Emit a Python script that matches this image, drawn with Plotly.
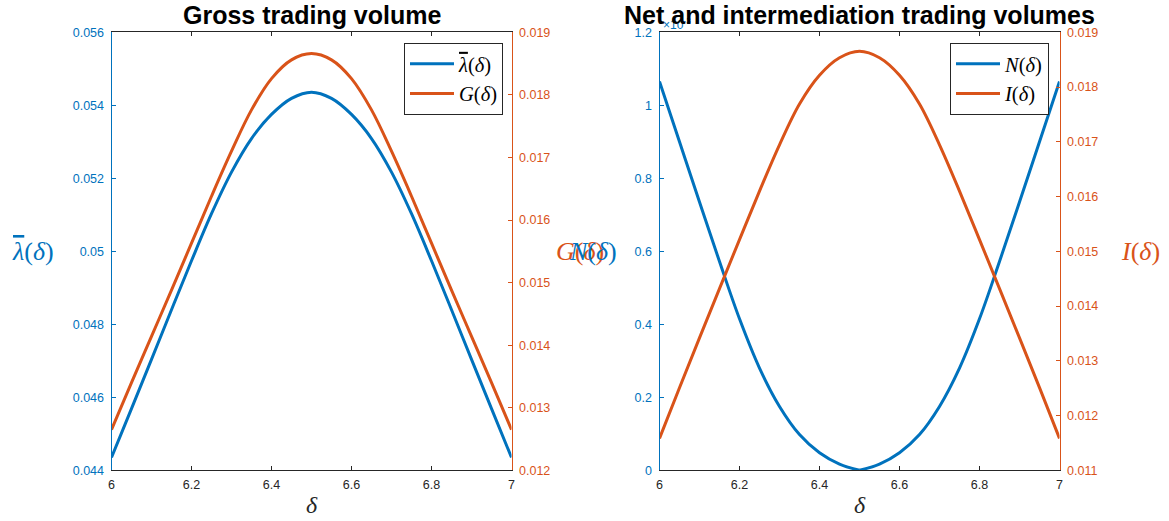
import plotly.graph_objects as go

# Bank parameter delta on the horizontal axis
delta = [6.00, 6.05, 6.10, 6.15, 6.20, 6.25, 6.30, 6.35, 6.40, 6.45, 6.50,
         6.55, 6.60, 6.65, 6.70, 6.75, 6.80, 6.85, 6.90, 6.95, 7.00]

# Gross trading volume panel
lambda_bar = [0.04435, 0.04569, 0.04704, 0.04840, 0.04974, 0.05103, 0.05217,
              0.05309, 0.05375, 0.05419, 0.05436, 0.05419, 0.05375, 0.05309,
              0.05217, 0.05103, 0.04974, 0.04840, 0.04704, 0.04569, 0.04435]
gross = [0.01265, 0.01340, 0.01414, 0.01488, 0.01563, 0.01638, 0.01710,
         0.01776, 0.01826, 0.01856, 0.01866, 0.01856, 0.01826, 0.01776,
         0.01710, 0.01638, 0.01563, 0.01488, 0.01414, 0.01340, 0.01265]

# Net and intermediation panel
net = [0.001065, 0.000900, 0.000735, 0.000572, 0.000415, 0.000280, 0.000175,
       0.000098, 0.000048, 0.000017, 0.000000, 0.000017, 0.000048, 0.000098,
       0.000175, 0.000280, 0.000415, 0.000572, 0.000735, 0.000900, 0.001065]
inter = [0.011584, 0.012509, 0.013419, 0.014319, 0.015214, 0.016099, 0.016944,
         0.017689, 0.018214, 0.018534, 0.018652, 0.018534, 0.018214, 0.017689,
         0.016944, 0.016099, 0.015214, 0.014319, 0.013419, 0.012509, 0.011584]

# Tick positions and labels
x_ticks = [6.0, 6.2, 6.4, 6.6, 6.8, 7.0]
x_ticktext = ["6", "6.2", "6.4", "6.6", "6.8", "7"]
lam_ticks = [0.044, 0.046, 0.048, 0.050, 0.052, 0.054, 0.056]
lam_ticktext = ["0.044", "0.046", "0.048", "0.05", "0.052", "0.054", "0.056"]
g_ticks = [0.012, 0.013, 0.014, 0.015, 0.016, 0.017, 0.018, 0.019]
g_ticktext = ["0.012", "0.013", "0.014", "0.015", "0.016", "0.017", "0.018", "0.019"]
n_ticks = [0.0, 0.0002, 0.0004, 0.0006, 0.0008, 0.0010, 0.0012]
n_ticktext = ["0", "0.2", "0.4", "0.6", "0.8", "1", "1.2"]
i_ticks = [0.011, 0.012, 0.013, 0.014, 0.015, 0.016, 0.017, 0.018, 0.019]
i_ticktext = ["0.011", "0.012", "0.013", "0.014", "0.015", "0.016", "0.017", "0.018", "0.019"]

BLUE = "#0072BD"
ORANGE = "#D95319"
DARK = "#262626"
W, H = 1169, 521
SANS = "Liberation Sans, Arial, sans-serif"
SERIF = "Liberation Serif, Times New Roman, serif"
LAMBDA_BAR = '<i><span style="text-decoration:overline">λ</span></i>(<i>δ</i>)'


def px(x):
    return x / W


def py(y):
    return 1 - y / H


fig = go.Figure()

fig.add_trace(go.Scatter(x=delta, y=lambda_bar, name=LAMBDA_BAR,
                         mode="lines", line=dict(color=BLUE, width=3, shape="spline"),
                         xaxis="x", yaxis="y", legend="legend"))
fig.add_trace(go.Scatter(x=delta, y=gross, name="<i>G</i>(<i>δ</i>)",
                         mode="lines", line=dict(color=ORANGE, width=3, shape="spline"),
                         xaxis="x", yaxis="y2", legend="legend"))

# N(delta) has a kink at its minimum: draw each branch as its own smooth piece
mid = delta.index(6.50)
fig.add_trace(go.Scatter(x=delta[:mid + 1], y=net[:mid + 1], name="<i>N</i>(<i>δ</i>)",
                         mode="lines", line=dict(color=BLUE, width=3, shape="spline"),
                         xaxis="x2", yaxis="y3", legend="legend2", legendgroup="N"))
fig.add_trace(go.Scatter(x=delta[mid:], y=net[mid:], name="<i>N</i>(<i>δ</i>)",
                         mode="lines", line=dict(color=BLUE, width=3, shape="spline"),
                         xaxis="x2", yaxis="y3", legend="legend2", legendgroup="N",
                         showlegend=False))
fig.add_trace(go.Scatter(x=delta, y=inter, name="<i>I</i>(<i>δ</i>)",
                         mode="lines", line=dict(color=ORANGE, width=3, shape="spline"),
                         xaxis="x2", yaxis="y4", legend="legend2"))

x_dom1 = [px(111.5), px(511.5)]
x_dom2 = [px(659.5), px(1059.5)]
y_dom = [py(470.3), py(32.3)]

tick_font = dict(family=SANS, size=12.5)


def x_axis(domain, anchor):
    return dict(domain=domain, range=[6, 7], anchor=anchor, tickvals=x_ticks,
                ticktext=x_ticktext, ticks="inside", ticklen=4, tickcolor=DARK,
                showline=True, linecolor=DARK, linewidth=1, mirror="ticks",
                showgrid=False, zeroline=False, automargin=False,
                ticklabelstandoff=3,
                tickfont=dict(tick_font, color=DARK))


def y_axis(rng, vals, text, color, side, anchor, overlaying=None, domain=None):
    d = dict(range=rng, tickvals=vals, ticktext=text, ticks="inside", ticklen=4,
             tickcolor=color, showline=True, linecolor=color, linewidth=1,
             showgrid=False, zeroline=False, side=side, anchor=anchor,
             automargin=False, ticklabelstandoff=4,
             tickfont=dict(tick_font, color=color))
    if overlaying:
        d["overlaying"] = overlaying
    if domain:
        d["domain"] = domain
    return d


legend_common = dict(xanchor="right", yanchor="top", bgcolor="white",
                     bordercolor=DARK, borderwidth=1, itemwidth=44,
                     font=dict(family=SERIF, size=20.5, color="black"),
                     tracegroupgap=0)

fig.update_layout(
    width=W, height=H,
    margin=dict(l=0, r=0, t=0, b=0, autoexpand=False),
    paper_bgcolor="white", plot_bgcolor="white",
    xaxis=x_axis(x_dom1, "y"),
    yaxis=y_axis([0.044, 0.056], lam_ticks, lam_ticktext, BLUE, "left", "x", domain=y_dom),
    yaxis2=y_axis([0.012, 0.019], g_ticks, g_ticktext, ORANGE, "right", "x", overlaying="y"),
    xaxis2=x_axis(x_dom2, "y3"),
    yaxis3=y_axis([0, 0.0012], n_ticks, n_ticktext, BLUE, "left", "x2", domain=y_dom),
    yaxis4=y_axis([0.011, 0.019], i_ticks, i_ticktext, ORANGE, "right", "x2", overlaying="y3"),
    legend=dict(legend_common, x=px(503), y=py(43)),
    legend2=dict(legend_common, x=px(1049), y=py(43)),
    showlegend=True,
)

annotations = [
    # scale factor of the net-volume axis
    dict(text="×10<sup>-3</sup>", x=px(661), y=py(24), xanchor="left", yanchor="middle",
         font=dict(family=SANS, size=12, color=BLUE)),
    # panel titles
    dict(text="<b>Gross trading volume</b>", x=px(311.5), y=py(15),
         xanchor="center", yanchor="middle", font=dict(family=SANS, size=25, color="black")),
    dict(text="<b>Net and intermediation trading volumes</b>", x=px(859.5), y=py(15),
         xanchor="center", yanchor="middle", font=dict(family=SANS, size=25, color="black")),
    # axis labels
    dict(text=LAMBDA_BAR, x=px(33), y=py(251), xanchor="center", yanchor="middle",
         font=dict(family=SERIF, size=26, color=BLUE)),
    dict(text="<i>G</i>(<i>δ</i>)", x=px(580), y=py(251), xanchor="center", yanchor="middle",
         font=dict(family=SERIF, size=26, color=ORANGE)),
    dict(text="<i>N</i>(<i>δ</i>)", x=px(593), y=py(251), xanchor="center", yanchor="middle",
         font=dict(family=SERIF, size=26, color=BLUE)),
    dict(text="<i>I</i>(<i>δ</i>)", x=px(1140), y=py(251), xanchor="center", yanchor="middle",
         font=dict(family=SERIF, size=26, color=ORANGE)),
    dict(text="<i>δ</i>", x=px(311.5), y=py(505), xanchor="center", yanchor="middle",
         font=dict(family=SERIF, size=24, color=DARK)),
    dict(text="<i>δ</i>", x=px(859.5), y=py(505), xanchor="center", yanchor="middle",
         font=dict(family=SERIF, size=24, color=DARK)),
]
for a in annotations:
    a.update(xref="paper", yref="paper", showarrow=False)
fig.update_layout(annotations=annotations)

fig.write_html("out.html")
